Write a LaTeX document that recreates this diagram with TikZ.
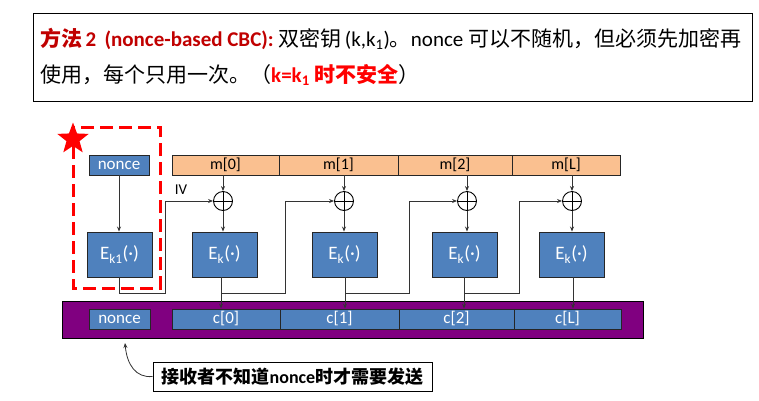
\documentclass[tikz,border=0pt]{standalone}
\usepackage{fontspec}
\setmainfont{Carlito}
\newfontfamily\cjk{Noto Sans CJK SC}
\usetikzlibrary{shapes.geometric,arrows.meta,calc}
\definecolor{boxblue}{RGB}{79,129,189}
\definecolor{boxorange}{RGB}{250,192,144}
\definecolor{boxpurple}{RGB}{128,0,128}
\definecolor{darkred}{RGB}{192,0,0}
\tikzset{
  bluebox/.style={draw=black!85, line width=0.9pt, fill=boxblue, text=white, inner sep=0pt, font=\fontsize{17}{19}\selectfont},
  encbox/.style={bluebox, minimum width=65pt, minimum height=45pt, font=\fontsize{19}{21}\selectfont},
  mbox/.style={draw=black!85, line width=0.9pt, fill=boxorange, text=black, inner sep=0pt, minimum height=20pt, font=\fontsize{16}{18}\selectfont},
  cbox/.style={bluebox, minimum height=20pt},
  xorc/.style={draw=black, line width=0.9pt, circle, minimum size=19pt, inner sep=0pt, path picture={\draw[line width=0.9pt] (path picture bounding box.north) -- (path picture bounding box.south) (path picture bounding box.west) -- (path picture bounding box.east);}},
  conn/.style={draw=black!80, line width=0.8pt},
  arr/.style={conn, -{Stealth[length=5pt,width=4pt]}},
}
\begin{document}
\begin{tikzpicture}[x=1pt,y=-1pt]
\useasboundingbox (0,0) rectangle (759,400);
% title box
\draw[line width=1pt] (33,13) rectangle (752,101);
\node[anchor=west, inner sep=0pt, font=\fontsize{21}{24}\selectfont] (t1) at (40,39)
 {{\bfseries\color{darkred}{\cjk 方法}\,2 \,(nonce-based CBC):} {\cjk 双密钥}\,(k,k\textsubscript{1}){\cjk 。}nonce {\cjk 可以不随机，但必须先加密再}};
\node[anchor=west, inner sep=0pt, font=\fontsize{21}{24}\selectfont] (t2) at (40,75)
 {{\cjk 使用，每个只用一次。（}{\color{red}\bfseries k=k\textsubscript{1} {\cjk 时不安全}}{\cjk ）}};
% red dashed box + star
\draw[red, line width=3pt, dash pattern=on 13pt off 6pt] (73,127) rectangle (160,288);
\node[star, star points=5, star point ratio=2.4, fill=red, minimum size=33pt, inner sep=0pt] (star) at (73,139) {};
% nonce and Ek1
\node[bluebox, minimum width=60pt, minimum height=20pt] (n1) at (119,165) {nonce};
\node[encbox] (e0) at (119.5,254.5) {E\textsubscript{k1}(·)};
% m row
\node[mbox, minimum width=107pt] (m0) at (225.5,165) {m[0]};
\node[mbox, minimum width=119pt] (m1) at (338.5,165) {m[1]};
\node[mbox, minimum width=114pt] (m2) at (455,165) {m[2]};
\node[mbox, minimum width=108pt] (m3) at (566,165) {m[L]};
% xors
\node[xorc] (x1) at (223,201) {};
\node[xorc] (x2) at (344,201) {};
\node[xorc] (x3) at (467,201) {};
\node[xorc] (x4) at (572,201) {};
% Ek boxes
\node[encbox] (e1) at (224.5,254.5) {E\textsubscript{k}(·)};
\node[encbox] (e2) at (344.5,254.5) {E\textsubscript{k}(·)};
\node[encbox] (e3) at (464.5,254.5) {E\textsubscript{k}(·)};
\node[encbox] (e4) at (571.5,254.5) {E\textsubscript{k}(·)};
% purple band and c row
\node[draw=black, line width=1pt, fill=boxpurple, minimum width=581pt, minimum height=37pt, inner sep=0pt] (band) at (352.5,319.5) {};
\node[cbox, minimum width=61pt] (n2) at (119.5,319) {nonce};
\node[cbox, minimum width=108pt] (c0) at (226,319) {c[0]};
\node[cbox, minimum width=119pt] (c1) at (339.5,319) {c[1]};
\node[cbox, minimum width=115pt] (c2) at (456.5,319) {c[2]};
\node[cbox, minimum width=107pt] (c3) at (567.5,319) {c[L]};
% arrows m -> xor -> E
\foreach \m/\x/\e in {m0/x1/e1, m1/x2/e2, m2/x3/e3, m3/x4/e4}{
  \draw[arr] (\m.south -| \x) -- (\x.north);
  \draw[arr] (\x.south) -- (\x.south |- \e.north);
}
\draw[arr] (n1.south) -- (n1.south |- e0.north);
% E -> c
\draw[arr] (e1.south -| 221,0) -- (c0.north -| 221,0);
\draw[arr] (e2.south -| 345,0) -- (c1.north -| 345,0);
\draw[arr] (e3.south -| 464,0) -- (c2.north -| 464,0);
\draw[arr] (e4.south -| 573,0) -- (c3.north -| 573,0);
% chaining
\coordinate (h0) at (165,293);
\coordinate (h1) at (285,293);
\coordinate (h2) at (409,293);
\coordinate (h3) at (519,293);
\draw[arr] (e0.south) |- (h0) |- (x1.west);
\draw[arr] (e1.south -| 221,0) |- (h1) |- (x2.west);
\draw[arr] (e2.south -| 345,0) |- (h2) |- (x3.west);
\draw[arr] (e3.south -| 464,0) |- (h3) |- (x4.west);
\node[font=\fontsize{15}{17}\selectfont] (iv) at (181,190) {IV};
% callout
\node[draw=black, line width=1pt, minimum width=279pt, minimum height=29pt, inner sep=0pt, font=\fontsize{18}{20}\selectfont\bfseries] (call) at (292.5,376.5) {{\cjk 接收者不知道}nonce{\cjk 时才需要发送}};
\coordinate (tip) at (125,343);
\draw[conn, -{Stealth[length=5pt,width=4pt]}] (call.west) .. controls (136,378) and (127,365) .. (tip);
\end{tikzpicture}
\end{document}
